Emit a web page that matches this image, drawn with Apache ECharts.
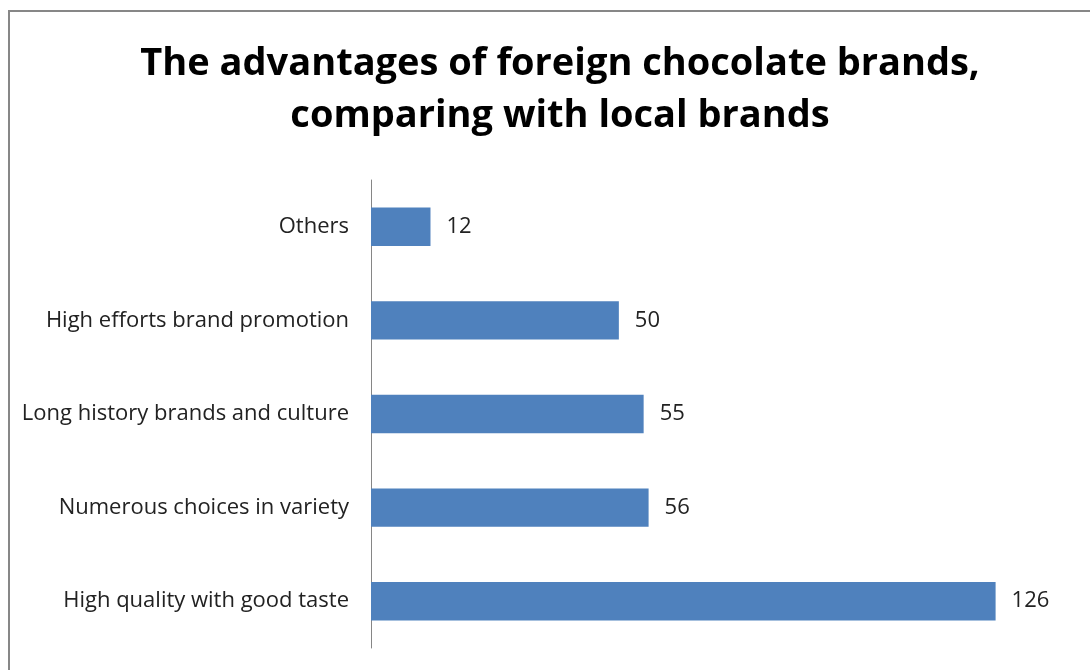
<!DOCTYPE html>
<html>
<head>
<meta charset="utf-8">
<script src="https://cdn.jsdelivr.net/npm/echarts@6/dist/echarts.min.js"></script>
<style>
  html, body { margin: 0; padding: 0; background: #fff; }
  #chart { width: 1090px; height: 670px; }
</style>
</head>
<body>
<div id="chart"></div>
<script>
// Survey answers, listed bottom-to-top as drawn on the category axis
const categories = [
  'High quality with good taste',
  'Numerous choices in variety',
  'Long history brands and culture',
  'High efforts brand promotion',
  'Others'
];
const responses = [126, 56, 55, 50, 12];

const titleText = 'The advantages of foreign chocolate brands,\ncomparing with local brands';

const chart = echarts.init(document.getElementById('chart'));
chart.setOption({
  animation: false,
  backgroundColor: '#ffffff',
  graphic: [{
    type: 'rect',
    shape: { x: 9, y: 11, width: 1200, height: 800 },
    style: { fill: 'none', stroke: '#878787', lineWidth: 2 },
    silent: true
  }],
  title: {
    text: titleText,
    left: 555,
    top: 33,
    textAlign: 'center',
    textStyle: {
      fontFamily: 'Open Sans',
      fontSize: 38,
      fontWeight: 'bold',
      color: '#000',
      lineHeight: 52
    }
  },
  grid: { left: 371, top: 180, width: 694, height: 468, containLabel: false },
  xAxis: {
    type: 'value',
    min: 0,
    max: 140,
    show: false
  },
  yAxis: {
    type: 'category',
    data: categories,
    axisLine: { show: true, lineStyle: { color: '#868686', width: 1 } },
    axisTick: { show: false },
    axisLabel: {
      margin: 22,
      fontFamily: 'Open Sans',
      fontSize: 22,
      color: '#222'
    }
  },
  series: [{
    type: 'bar',
    data: responses,
    barCategoryGap: '59%',
    itemStyle: { color: '#4f81bd' },
    label: {
      show: true,
      position: 'right',
      distance: 16,
      fontFamily: 'Open Sans',
      fontSize: 22,
      color: '#222'
    }
  }]
});
</script>
</body>
</html>
